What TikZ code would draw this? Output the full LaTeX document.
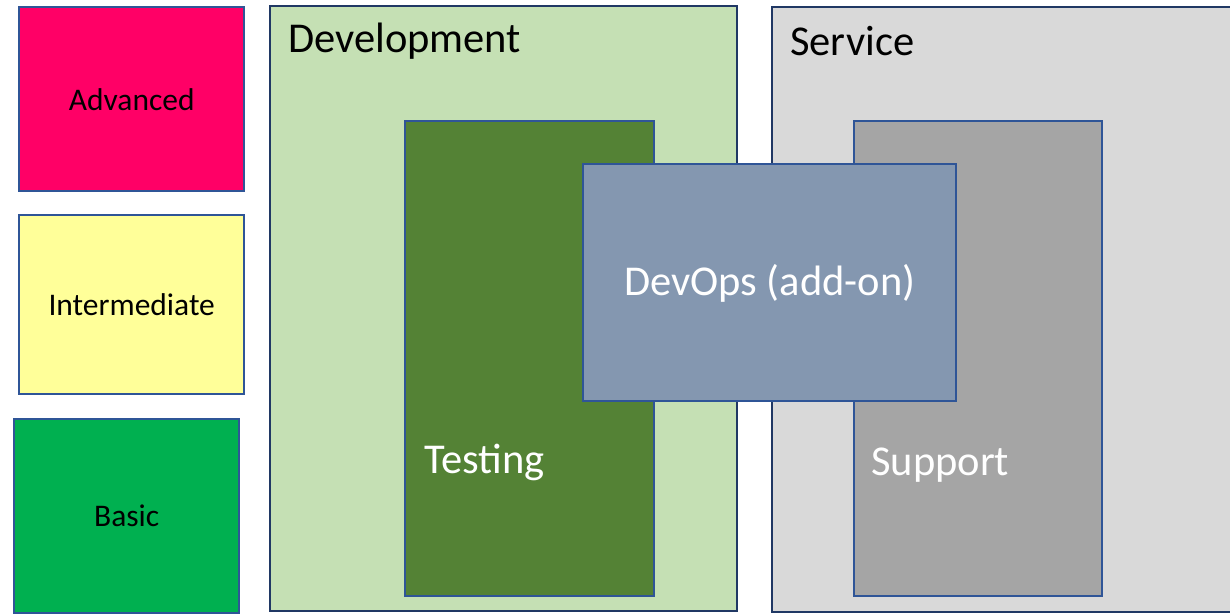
\documentclass[tikz,border=0pt]{standalone}
\usepackage{fontspec}
\setmainfont{Carlito}
\usepackage{xcolor}
\usetikzlibrary{positioning}

\definecolor{advanced}{HTML}{FF0066}
\definecolor{intermediate}{HTML}{FFFF99}
\definecolor{basic}{HTML}{00B050}
\definecolor{devarea}{HTML}{C5E0B4}
\definecolor{servarea}{HTML}{D9D9D9}
\definecolor{testing}{HTML}{548235}
\definecolor{support}{HTML}{A5A5A5}
\definecolor{devops}{HTML}{8497B0}
\definecolor{edgeblue}{HTML}{2F5597}
\definecolor{edgenavy}{HTML}{203864}

\begin{document}
\begin{tikzpicture}[x=1pt, y=-1pt,
    box/.style={draw=edgeblue, line width=2.4pt, anchor=north west, inner sep=0pt},
    area/.style={draw=edgenavy, line width=2.2pt, anchor=north west, inner sep=0pt},
    level/.style={box, font=\fontsize{31.5}{36}\selectfont},
    title/.style={anchor=base west, inner sep=0pt, font=\fontsize{42.5}{50}\selectfont},
    inner/.style={title, text=white}]

    \useasboundingbox (0,0) rectangle (1230,613);
    \clip (0,0) rectangle (1230,613);

    % skill levels
    \node[level, fill=advanced, minimum width=225pt, minimum height=184pt] (adv) at (18,6) {Advanced};
    \node[level, fill=intermediate, minimum width=225pt, minimum height=179pt] (inter) at (18,214) {Intermediate};
    \node[level, fill=basic, minimum width=225pt, minimum height=194pt] (basic) at (13,418) {Basic};

    % areas
    \node[area, fill=devarea, minimum width=467pt, minimum height=605pt] (dev) at (269,5) {};
    \node[area, fill=servarea, minimum width=480pt, minimum height=605pt] (serv) at (771,6) {};
    \node[title] (devlabel) at (288,52.5) {Development};
    \node[title] (servlabel) at (790,55) {Service};

    % sub areas
    \node[box, fill=testing, minimum width=249pt, minimum height=475pt] (test) at (404,120) {};
    \node[box, fill=support, minimum width=248pt, minimum height=475pt] (supp) at (853,120) {};
    \node[inner] (testlabel) at (424,473) {Testing};
    \node[inner] (supplabel) at (871,475) {Support};

    % add-on
    \node[box, fill=devops, minimum width=373pt, minimum height=237pt] (ops) at (582,163) {};
    \node[inner, anchor=base] (opslabel) at (ops.center |- 0,295) {DevOps (add-on)};
\end{tikzpicture}
\end{document}
